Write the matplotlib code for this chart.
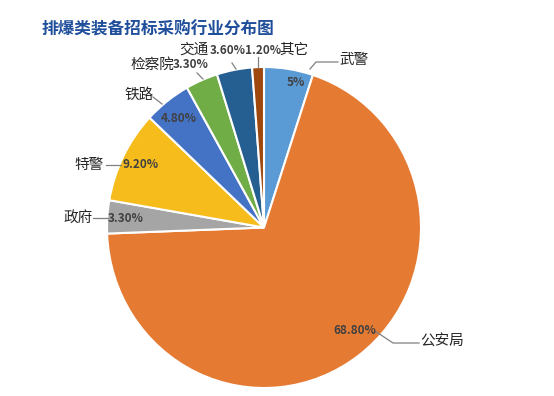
import matplotlib
matplotlib.use("Agg")
import matplotlib.pyplot as plt

plt.rcParams['font.family'] = ['Noto Sans CJK SC', 'DejaVu Sans']

# data, clockwise from 12 o'clock
categories = ['武警', '公安局', '政府', '特警', '铁路', '检察院', '交通', '其它']
shares = [5.0, 68.8, 3.3, 9.2, 4.8, 3.3, 3.6, 1.2]
pct_labels = ['5%', '68.80%', '3.30%', '9.20%', '4.80%', '3.30%', '3.60%', '1.20%']
colors = ['#5B9BD5', '#E57A33', '#A5A5A5', '#F5BC1C',
          '#4472C4', '#70AD47', '#255E91', '#9E480E']
title = '排爆类装备招标采购行业分布图'

W, H = 554, 396
fig = plt.figure(figsize=(W / 100, H / 100), dpi=100)

# pie axes: pixel box of the pie (slightly taller than wide, like the reference)
left, top, right, bottom = 107, 67, 421, 388
ax = fig.add_axes([left / W, 1 - bottom / H, (right - left) / W, (bottom - top) / H])
ax.pie(shares, colors=colors, startangle=90, counterclock=False,
       wedgeprops=dict(edgecolor='white', linewidth=1.5))
ax.set_aspect('auto')
ax.set_xlim(-1, 1)
ax.set_ylim(-1, 1)
ax.axis('off')

# overlay in pixel coordinates for labels and leader lines
ov = fig.add_axes([0, 0, 1, 1], zorder=5)
ov.set_xlim(0, W)
ov.set_ylim(H, 0)
ov.axis('off')
ov.patch.set_alpha(0)

# (x, y, horizontal alignment)
name_pos = [(354, 60, 'center'), (442, 342, 'center'), (78, 218, 'center'),
            (89, 165, 'center'), (139, 95, 'center'), (152, 65, 'center'),
            (209, 50, 'right'), (279, 50, 'left')]
pct_pos = [(296, 83, 'center'), (355, 330, 'center'), (126, 219, 'center'),
           (141, 165, 'center'), (179, 118, 'center'), (191, 65, 'center'),
           (210, 50, 'left'), (245, 50, 'left')]
leaders = [
    [(310, 69), (316, 62), (338, 62)],
    [(375, 331), (393, 343), (419, 343)],
    [(93, 218), (108, 218)],
    [(106, 165), (121, 165)],
    [(153, 97), (162, 104)],
    [(197, 73), (203, 79)],
    [(232, 63), (236, 69)],
    [(258, 57), (258, 67)],
]

for name, pct, npos, ppos, line in zip(categories, pct_labels, name_pos, pct_pos, leaders):
    xs, ys = zip(*line)
    ov.plot(xs, ys, color='#808080', lw=0.9)
    ov.text(npos[0], npos[1], name, ha=npos[2], va='center', fontsize=10.5,
            color='#262626')
    ov.text(ppos[0], ppos[1], pct, ha=ppos[2], va='center', fontsize=8.5,
            fontweight='bold', color='#404040')

fig.text(42 / W, 1 - 30 / H, title, ha='left', va='center', fontsize=12,
         fontweight='bold', color='#1F4E9A')

fig.savefig('out.png', dpi=100)
